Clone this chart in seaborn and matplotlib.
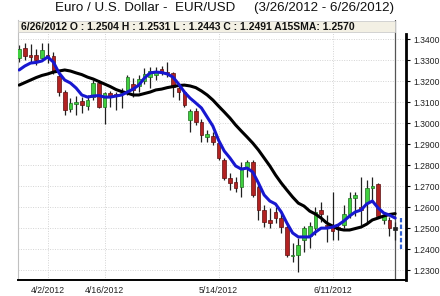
import numpy as np
import pandas as pd
import seaborn as sns
import matplotlib.pyplot as plt
from matplotlib.patches import Rectangle

# daily EUR/USD candles, 3/26/2012 .. 6/26/2012
opens = [1.3311, 1.3359, 1.3325, 1.3325, 1.3311, 1.3325, 1.3320, 1.3225, 1.3149, 1.3068,
         1.3092, 1.3106, 1.3082, 1.3125, 1.3192, 1.3078, 1.3144, 1.3140, 1.3140, 1.3159,
         1.3187, 1.3178, 1.3201, 1.3220, 1.3230, 1.3259, 1.3244, 1.3240, 1.3168, 1.3149,
         1.3016, 1.3059, 1.3006, 1.2935, 1.2940, 1.2906, 1.2825, 1.2740, 1.2720, 1.2697,
         1.2792, 1.2816, 1.2697, 1.2587, 1.2540, 1.2578, 1.2549, 1.2506, 1.2370, 1.2373,
         1.2444, 1.2463, 1.2501, 1.2587, 1.2516, 1.2516, 1.2506, 1.2516, 1.2568, 1.2644,
         1.2601, 1.2620, 1.2692, 1.2711, 1.2540, 1.2540, 1.2504]
highs = [1.3373, 1.3382, 1.3378, 1.3354, 1.3382, 1.3382, 1.3339, 1.3244, 1.3159, 1.3120,
         1.3130, 1.3125, 1.3135, 1.3206, 1.3206, 1.3149, 1.3154, 1.3149, 1.3168, 1.3230,
         1.3216, 1.3230, 1.3263, 1.3268, 1.3268, 1.3273, 1.3292, 1.3244, 1.3182, 1.3159,
         1.3068, 1.3073, 1.3020, 1.2968, 1.2959, 1.2911, 1.2835, 1.2763, 1.2744, 1.2816,
         1.2825, 1.2825, 1.2716, 1.2611, 1.2597, 1.2601, 1.2573, 1.2525, 1.2430, 1.2454,
         1.2511, 1.2530, 1.2601, 1.2625, 1.2563, 1.2673, 1.2520, 1.2611, 1.2673, 1.2673,
         1.2744, 1.2730, 1.2744, 1.2716, 1.2578, 1.2554, 1.2531]
lows = [1.3292, 1.3301, 1.3292, 1.3278, 1.3301, 1.3287, 1.3235, 1.3130, 1.3040, 1.3054,
        1.3040, 1.3049, 1.3063, 1.3111, 1.3073, 1.2997, 1.3078, 1.3063, 1.3073, 1.3135,
        1.3125, 1.3149, 1.3187, 1.3168, 1.3206, 1.3230, 1.3220, 1.3125, 1.3111, 1.3078,
        1.2959, 1.2992, 1.2911, 1.2911, 1.2897, 1.2825, 1.2730, 1.2682, 1.2673, 1.2649,
        1.2744, 1.2649, 1.2540, 1.2506, 1.2501, 1.2525, 1.2478, 1.2363, 1.2340, 1.2292,
        1.2387, 1.2406, 1.2468, 1.2530, 1.2435, 1.2444, 1.2444, 1.2501, 1.2549, 1.2559,
        1.2516, 1.2525, 1.2635, 1.2549, 1.2520, 1.2463, 1.2443]
closes = [1.3354, 1.3320, 1.3316, 1.3301, 1.3349, 1.3318, 1.3244, 1.3149, 1.3063, 1.3097,
          1.3101, 1.3087, 1.3111, 1.3192, 1.3078, 1.3144, 1.3125, 1.3132, 1.3144, 1.3220,
          1.3159, 1.3211, 1.3235, 1.3249, 1.3249, 1.3244, 1.3240, 1.3173, 1.3149, 1.3087,
          1.3059, 1.3006, 1.2944, 1.2949, 1.2911, 1.2835, 1.2740, 1.2716, 1.2692, 1.2787,
          1.2816, 1.2659, 1.2587, 1.2530, 1.2525, 1.2549, 1.2506, 1.2373, 1.2373, 1.2420,
          1.2501, 1.2511, 1.2578, 1.2568, 1.2511, 1.2487, 1.2499, 1.2568, 1.2644, 1.2659,
          1.2587, 1.2692, 1.2701, 1.2559, 1.2563, 1.2501, 1.2491]

# short moving average (blue) and 15-day SMA (black)
fast_ma = [1.3254, 1.3273, 1.3287, 1.3290, 1.3297, 1.3316, 1.3292, 1.3240, 1.3206, 1.3192,
           1.3168, 1.3135, 1.3125, 1.3130, 1.3132, 1.3125, 1.3125, 1.3130, 1.3135, 1.3149,
           1.3163, 1.3182, 1.3216, 1.3240, 1.3244, 1.3242, 1.3235, 1.3220, 1.3187, 1.3149,
           1.3120, 1.3097, 1.3073, 1.3030, 1.2987, 1.2920, 1.2868, 1.2835, 1.2797, 1.2782,
           1.2787, 1.2768, 1.2716, 1.2659, 1.2630, 1.2616, 1.2578, 1.2525, 1.2478, 1.2459,
           1.2459, 1.2459, 1.2482, 1.2501, 1.2501, 1.2506, 1.2516, 1.2535, 1.2559, 1.2578,
           1.2587, 1.2616, 1.2630, 1.2597, 1.2573, 1.2563, 1.2549]
sma15 = [1.3182, 1.3194, 1.3206, 1.3218, 1.3228, 1.3235, 1.3244, 1.3249, 1.3254, 1.3249,
         1.3240, 1.3232, 1.3220, 1.3211, 1.3199, 1.3187, 1.3175, 1.3161, 1.3151, 1.3144,
         1.3135, 1.3135, 1.3142, 1.3149, 1.3159, 1.3163, 1.3170, 1.3175, 1.3180, 1.3182,
         1.3178, 1.3170, 1.3154, 1.3135, 1.3111, 1.3082, 1.3054, 1.3025, 1.2992, 1.2963,
         1.2935, 1.2906, 1.2873, 1.2835, 1.2797, 1.2754, 1.2716, 1.2682, 1.2649, 1.2620,
         1.2606, 1.2582, 1.2568, 1.2549, 1.2525, 1.2511, 1.2497, 1.2492, 1.2492, 1.2499,
         1.2506, 1.2520, 1.2540, 1.2549, 1.2559, 1.2566, 1.2570]

date_labels = ['4/2/2012', '4/16/2012', '5/14/2012', '6/11/2012']
date_index = [5, 15, 35, 55]
price_ticks = [1.23, 1.24, 1.25, 1.26, 1.27, 1.28, 1.29, 1.30, 1.31, 1.32, 1.33, 1.34]
last_price_marker = [1.2401, 1.2549]

df = pd.DataFrame({'open': opens, 'high': highs, 'low': lows, 'close': closes,
                   'fast': fast_ma, 'sma15': sma15})
df['i'] = np.arange(len(df))

sns.set_style('white')
plt.rcParams['font.family'] = ['Liberation Sans', 'DejaVu Sans']

fig = plt.figure(figsize=(4.4, 2.96), dpi=100)
ax = fig.add_axes([18 / 440, 16 / 296, 388 / 440, 260 / 296])

# grid
for p in price_ticks:
    ax.axhline(p, color='#d4d4d4', lw=0.7, ls=(0, (1, 1.5)), zorder=0)
for d in date_index:
    ax.axvline(d, color='#d4d4d4', lw=0.7, ls=(0, (1, 1.5)), zorder=0)

# candles
up = df['close'] > df['open']
fill = np.where(up, '#3fcf3f', '#b22222')
edge = np.where(up, '#1e6e1e', '#5a0f0f')
fill[-1] = '#222222'
edge[-1] = '#222222'
ax.vlines(df['i'], df['low'], df['high'], color='#202020', lw=0.9, zorder=2)
body = (df['close'] - df['open']).abs().clip(lower=0.00025)
ax.bar(df['i'], body, bottom=df[['open', 'close']].min(axis=1), width=0.64,
       color=fill, edgecolor=edge, linewidth=0.5, zorder=3)

# moving averages
sns.lineplot(data=df, x='i', y='sma15', color='black', lw=2.2, ax=ax, zorder=4)
sns.lineplot(data=df, x='i', y='fast', color='#1717d0', lw=2.2, ax=ax, zorder=5)

# cursor on the last bar, last price marker
ax.axvline(len(df) - 1, color='#555555', lw=0.9, zorder=1)
ax.vlines(len(df), last_price_marker[0], last_price_marker[1], color='#3060d0',
          lw=1.6, ls=(0, (2, 1)), zorder=5)

ax.set_xlim(-0.2, 67.9)
ax.set_ylim(1.2254, 1.3492)
ax.set_xlabel('')
ax.set_ylabel('')

ax.set_xticks(date_index)
ax.set_xticklabels(date_labels, fontsize=6.3, color='#222222')
ax.tick_params(axis='x', length=2, pad=2, color='#888888')

ax.yaxis.tick_right()
ax.set_yticks(price_ticks)
ax.set_yticklabels([f'{p:.4f}' for p in price_ticks], fontsize=6.2, color='#222222')
ax.tick_params(axis='y', length=3, width=0.8, pad=2, color='black')

ax.spines['top'].set_visible(False)
ax.spines['left'].set_color('#c0c0c0')
ax.spines['left'].set_linewidth(0.8)
ax.spines['bottom'].set_color('black')
ax.spines['bottom'].set_linewidth(1.4)
ax.spines['right'].set_color('black')
ax.spines['right'].set_linewidth(2.0)
ax.spines['right'].set_bounds(1.2254, 1.3425)

# info header inside the plot
ax.add_patch(Rectangle((0, 0.952), 0.972, 0.045, transform=ax.transAxes,
                       facecolor='#f3f0e4', edgecolor='#cccccc', lw=0.6, zorder=6,
                       clip_on=False))
ax.text(0.008, 0.975, '6/26/2012 O : 1.2504 H : 1.2531 L : 1.2443 C : 1.2491 A15SMA: 1.2570',
        transform=ax.transAxes, fontsize=7.5, fontweight='bold', va='center', ha='left',
        color='#111111', zorder=7)

fig.text(0.511, 0.972, 'Euro / U.S. Dollar -  EUR/USD     (3/26/2012 - 6/26/2012)',
         ha='center', va='center', fontsize=9.6, color='#111111')

fig.savefig('out.png', dpi=100)
